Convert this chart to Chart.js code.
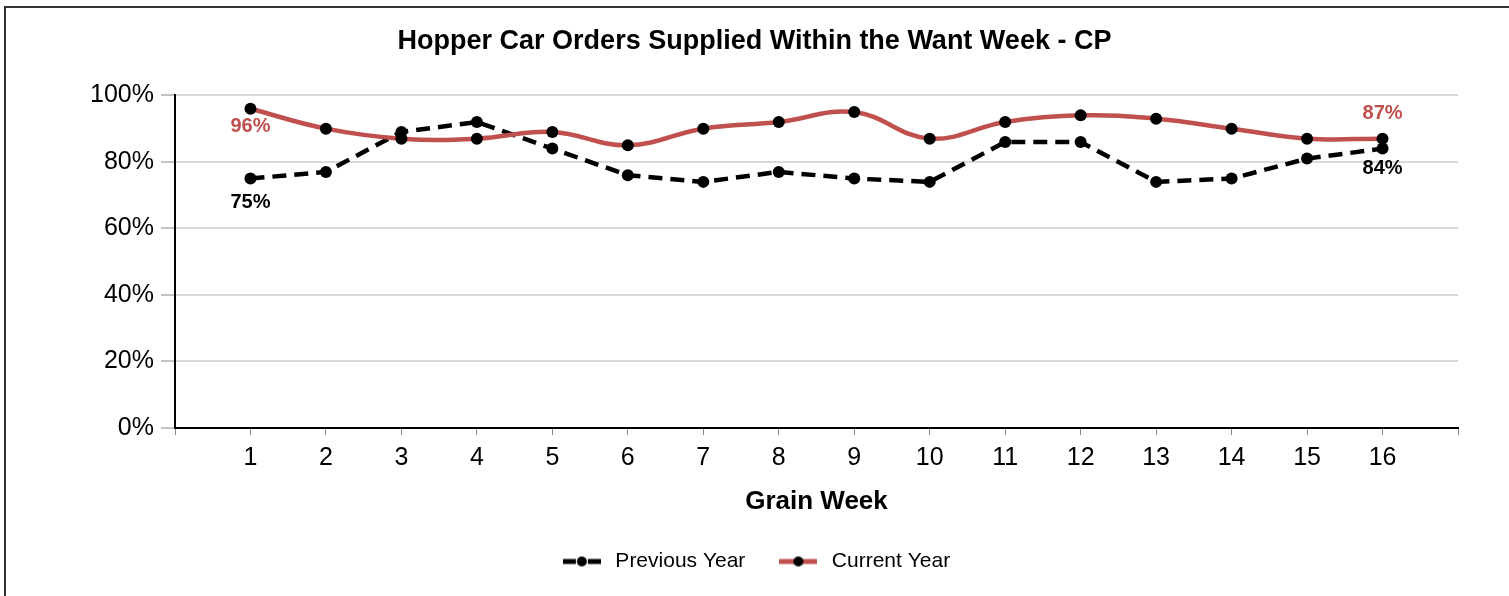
<!DOCTYPE html>
<html>
<head>
<meta charset="utf-8">
<script src="https://cdn.jsdelivr.net/npm/chart.js@4"></script>
<style>
  html, body { margin: 0; padding: 0; background: #fff; overflow: hidden; }
  #wrap { position: relative; width: 1509px; height: 596px; }
</style>
</head>
<body>
<div id="wrap">
  <canvas id="grafico"></canvas>
</div>
<script>
  // --- Datos ---
  const weeks = [1, 2, 3, 4, 5, 6, 7, 8, 9, 10, 11, 12, 13, 14, 15, 16];
  const previousYear = [75, 77, 89, 92, 84, 76, 74, 77, 75, 74, 86, 86, 74, 75, 81, 84];
  const currentYear = [96, 90, 87, 87, 89, 85, 90, 92, 95, 87, 92, 94, 93, 90, 87, 87];
  const seriesNames = ['Previous Year', 'Current Year'];
  const yTickStep = 20;

  const RED = '#C0504D';
  const FONT = "'Liberation Sans', Arial, sans-serif";

  // legend symbol: line with dot
  function legendSymbol(color, dashed) {
    const c = document.createElement('canvas');
    c.width = 38; c.height = 12;
    const g = c.getContext('2d');
    g.strokeStyle = color;
    g.lineWidth = 5;
    if (dashed) {
      g.beginPath(); g.moveTo(0, 6); g.lineTo(13, 6); g.stroke();
      g.beginPath(); g.moveTo(25, 6); g.lineTo(38, 6); g.stroke();
    } else {
      g.beginPath(); g.moveTo(0, 6); g.lineTo(38, 6); g.stroke();
    }
    g.fillStyle = '#000';
    g.beginPath(); g.arc(19, 6, 5, 0, Math.PI * 2); g.fill();
    return c;
  }

  const toPoints = arr => arr.map((v, i) => ({ x: weeks[i], y: v }));

  // outer frame (cut at right and bottom)
  const frame = {
    id: 'frame',
    beforeDraw(chart) {
      const c = chart.ctx;
      c.save();
      c.strokeStyle = '#333';
      c.lineWidth = 2;
      c.beginPath();
      c.moveTo(chart.width + 5, 7);
      c.lineTo(5, 7);
      c.lineTo(5, chart.height + 5);
      c.stroke();
      c.restore();
    }
  };

  // first/last labels
  const endLabels = {
    id: 'endLabels',
    afterDatasetsDraw(chart) {
      const ctx = chart.ctx;
      const place = [
        { color: '#000', first: 24, last: 20 },
        { color: RED, first: 18, last: -25 }
      ];
      chart.data.datasets.forEach((ds, di) => {
        const meta = chart.getDatasetMeta(di);
        const n = meta.data.length;
        [[0, place[di].first], [n - 1, place[di].last]].forEach(([idx, dy]) => {
          const pt = meta.data[idx];
          ctx.save();
          ctx.font = 'bold 20px ' + FONT;
          ctx.fillStyle = place[di].color;
          ctx.textAlign = 'center';
          ctx.textBaseline = 'middle';
          ctx.fillText(ds.data[idx].y + '%', pt.x, pt.y + dy);
          ctx.restore();
        });
      });
    }
  };

  const ctx = document.getElementById('grafico').getContext('2d');
  new Chart(ctx, {
    type: 'line',
    data: {
      datasets: [
        {
          label: seriesNames[0],
          data: toPoints(previousYear),
          borderColor: '#000',
          borderWidth: 4.5,
          borderDash: [14, 8],
          tension: 0,
          pointRadius: 6,
          pointBackgroundColor: '#000',
          pointBorderColor: '#000',
          pointBorderWidth: 0,
          order: 2
        },
        {
          label: seriesNames[1],
          data: toPoints(currentYear),
          borderColor: RED,
          borderWidth: 4.5,
          tension: 0.4,
          pointRadius: 6,
          pointBackgroundColor: '#000',
          pointBorderColor: '#000',
          pointBorderWidth: 0,
          order: 1
        }
      ]
    },
    options: {
      responsive: true,
      maintainAspectRatio: false,
      animation: false,
      layout: { padding: { left: 51, right: 51, top: 25, bottom: 14 } },
      plugins: {
        tooltip: { enabled: false },
        title: {
          display: true,
          text: 'Hopper Car Orders Supplied Within the Want Week - CP',
          color: '#000',
          font: { family: FONT, size: 27, weight: 'bold' },
          padding: { top: 0, bottom: 38 }
        },
        legend: {
          position: 'bottom',
          labels: {
            color: '#000',
            font: { family: FONT, size: 21 },
            usePointStyle: true,
            pointStyleWidth: 46,
            padding: 30,
            generateLabels: chart => chart.data.datasets.map((ds, i) => ({
              text: ds.label,
              pointStyle: legendSymbol(i === 0 ? '#000' : RED, i === 0),
              fillStyle: 'transparent',
              strokeStyle: 'transparent',
              lineWidth: 0,
              datasetIndex: i,
              hidden: false
            }))
          }
        }
      },
      scales: {
        x: {
          type: 'linear',
          min: 0,
          max: weeks.length + 1,
          afterFit: s => { s.height = 93; },
          ticks: {
            stepSize: 1,
            color: '#000',
            font: { family: FONT, size: 25 },
            padding: 8,
            callback: v => (weeks.includes(v) ? String(v) : '')
          },
          grid: { drawOnChartArea: false, drawTicks: true, tickLength: 7, tickColor: '#888', tickWidth: 1 },
          border: { color: '#000', width: 2 },
          title: {
            display: true,
            text: 'Grain Week',
            color: '#000',
            font: { family: FONT, size: 26, weight: 'bold' },
            padding: { top: 0, bottom: 4 }
          }
        },
        y: {
          min: 0,
          max: 100,
          afterFit: s => { s.width = 124; },
          ticks: {
            stepSize: yTickStep,
            color: '#000',
            font: { family: FONT, size: 25 },
            padding: 7,
            callback: v => v + '%'
          },
          grid: { color: '#d9d9d9', lineWidth: 2, tickLength: 14, tickColor: '#888', tickWidth: 1 },
          border: { color: '#000', width: 2 }
        }
      }
    },
    plugins: [frame, endLabels]
  });
</script>
</body>
</html>
